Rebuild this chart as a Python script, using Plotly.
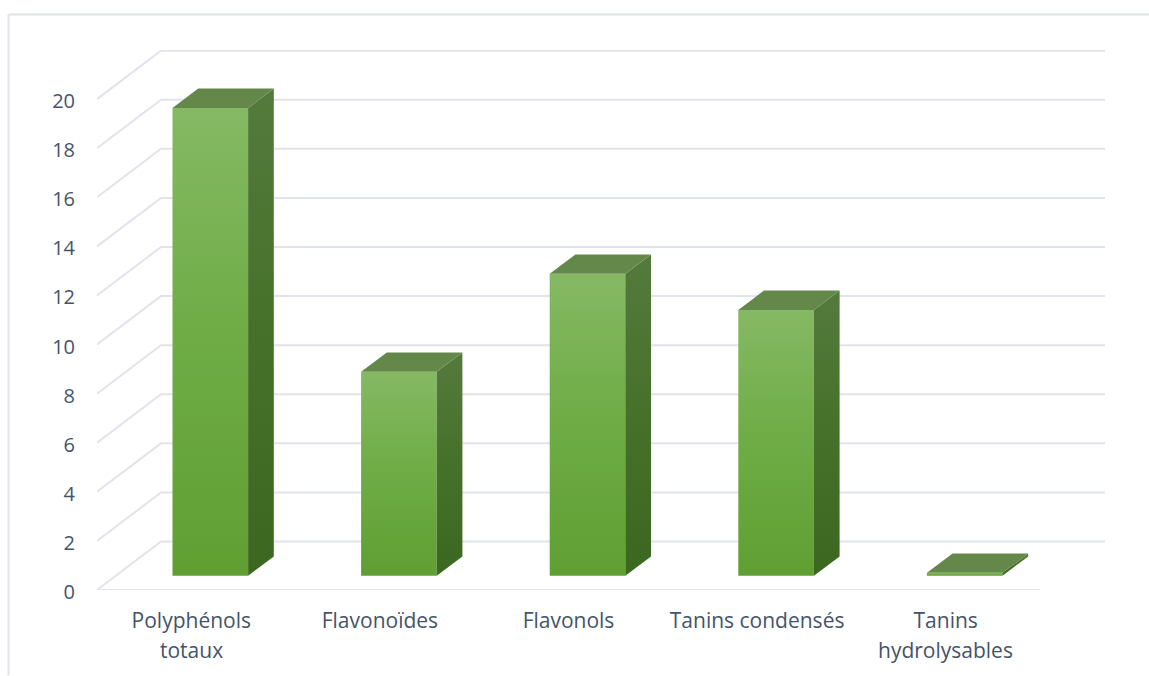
import plotly.graph_objects as go

labels_first = ["Polyphénols", "Flavonoïdes", "Flavonols", "Tanins condensés", "Tanins"]
labels_second = ["totaux", "", "", "", "hydrolysables"]
values = [19.06, 8.31, 12.3, 10.83, 0.12]
y_ticks = [0, 2, 4, 6, 8, 10, 12, 14, 16, 18, 20]

W, H = 1149, 676
L, R, T, B = 97, 44, 50, 85.5
UNIT_X = 188.6
UNIT_Y = (H - B - T) / 22.0
X0 = -0.5
X1 = X0 + (W - L - R) / UNIT_X

WALL_DX, WALL_DY = 64 / UNIT_X, 48.5 / UNIT_Y
BAR_W = 75.6 / UNIT_X
BAR_SHIFT_X, BAR_BASE = 19.0 / UNIT_X, 14.3 / UNIT_Y
DEPTH_X, DEPTH_Y = 25.7 / UNIT_X, 19.3 / UNIT_Y

GRID = "#e1e4ec"
TEXT = "#44546a"
FRONT = [[0, "#5f9f32"], [0.55, "#70ad47"], [1, "#85b964"]]
SIDE = [[0, "#3c6720"], [0.55, "#47722b"], [1, "#547a3d"]]
TOP = "#648849"

fig = go.Figure()

for v in y_ticks:
    fig.add_trace(go.Scatter(
        x=[X0, X0 + WALL_DX, X1], y=[v, v + WALL_DY, v + WALL_DY],
        mode="lines", line=dict(color=GRID, width=2), hoverinfo="skip", cliponaxis=False))
fig.add_trace(go.Scatter(
    x=[X0, 4.5], y=[0, 0], mode="lines",
    line=dict(color=GRID, width=2), hoverinfo="skip", cliponaxis=False))

for i, v in enumerate(values):
    xl = i + BAR_SHIFT_X - BAR_W / 2
    xr = xl + BAR_W
    y0 = BAR_BASE
    y1 = BAR_BASE + v
    front = dict(x=[xl, xr, xr, xl, xl], y=[y0, y0, y1, y1, y0])
    side = dict(x=[xr, xr + DEPTH_X, xr + DEPTH_X, xr, xr],
                y=[y0, y0 + DEPTH_Y, y1 + DEPTH_Y, y1, y0])
    top = dict(x=[xl, xr, xr + DEPTH_X, xl + DEPTH_X, xl],
               y=[y1, y1, y1 + DEPTH_Y, y1 + DEPTH_Y, y1])
    fig.add_trace(go.Scatter(**front, mode="none", fill="toself", cliponaxis=False,
                             fillgradient=dict(type="vertical", colorscale=FRONT)))
    fig.add_trace(go.Scatter(**side, mode="none", fill="toself", cliponaxis=False,
                             fillgradient=dict(type="vertical", colorscale=SIDE)))
    fig.add_trace(go.Scatter(**top, mode="none", fill="toself", cliponaxis=False, fillcolor=TOP))

annotations = [
    dict(x=i, y=0, xref="x", yref="y", text=t, showarrow=False, yshift=-60, yanchor="middle",
         font=dict(family="Open Sans", size=21, color=TEXT))
    for i, t in enumerate(labels_second) if t
]

def px(x):
    return (x - L) / (W - L - R)

def py(y):
    return (H - B - y) / (H - T - B)

frame = dict(type="line", xref="paper", yref="paper", line=dict(color="#dfe3ea", width=2))
shapes = [
    dict(frame, x0=px(8.5), x1=px(8.5), y0=py(676), y1=py(14.5)),
    dict(frame, x0=px(8.5), x1=px(1149), y0=py(14.5), y1=py(14.5)),
]

fig.update_layout(
    width=W, height=H, autosize=False,
    margin=dict(l=L, r=R, t=T, b=B, pad=0),
    paper_bgcolor="white", plot_bgcolor="white",
    showlegend=False, shapes=shapes, annotations=annotations,
    font=dict(family="Open Sans", size=21, color=TEXT),
    xaxis=dict(range=[X0, X1], tickvals=list(range(len(labels_first))), ticktext=labels_first,
               showgrid=False, zeroline=False, showline=False, ticks="",
               ticklabelstandoff=16),
    yaxis=dict(range=[0, 22], tickvals=y_ticks, showgrid=False, zeroline=False, showline=False,
               ticks="", ticklabelstandoff=21, ticklabelshift=2, tickfont=dict(size=20)),
)
fig.write_html("out.html", config=dict(displayModeBar=False),
               post_script="document.body.style.margin='0';document.documentElement.style.overflow='hidden';")
